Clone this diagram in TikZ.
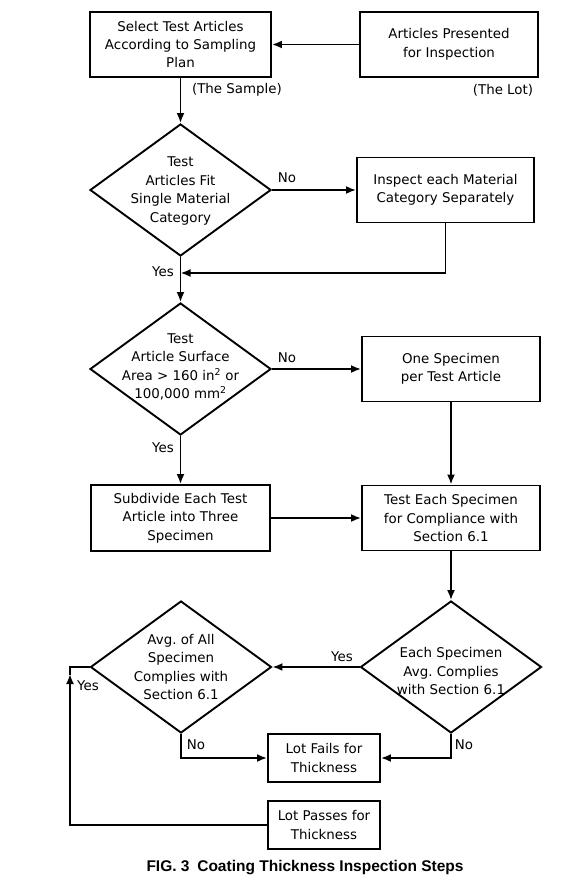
\documentclass[tikz,border=0pt]{standalone}
\usepackage{fontspec}
\setmainfont{DejaVu Sans}
\newfontfamily\capfont{Liberation Sans}
\usetikzlibrary{shapes.geometric,arrows.meta}
\frenchspacing
\begin{document}
\begin{tikzpicture}[x=1pt,y=-1pt,
  body/.style={font={\fontsize{13.4}{18.4}\selectfont}},
  box/.style={draw,line width=1.9pt,inner sep=0pt,minimum width=178pt,minimum height=65pt,align=center,body},
  smallbox/.style={box,minimum width=112pt,minimum height=48pt},
  dia/.style={draw,diamond,line width=1.9pt,inner sep=0pt,minimum width=181pt,minimum height=132pt},
  dtext/.style={align=center,inner sep=0pt,body},
  lbl/.style={inner sep=1pt,body},
  arr/.style={line width=1.9pt,-{Latex[length=10pt,width=8pt]}},
  ln/.style={line width=1.9pt}]
\useasboundingbox (0,0) rectangle (581,880);
% nodes
\node[box,minimum width=181pt] (b1) at (180.5,44.5) {Select Test Articles\\According to Sampling\\Plan};
\node[box] (b2) at (449,44.5) {Articles Presented\\for Inspection};
\node[dia] (d1) at (180.5,190) {};
\node[dtext] (t1) at ([yshift=-1pt]d1) {Test\\Articles Fit\\Single Material\\Category};
\node[box,minimum width=177pt] (b3) at (445.5,190) {Inspect each Material\\Category Separately};
\coordinate (m1) at (180.5,273);
\node[dia] (d2) at (180.5,369) {};
\node[dtext] (t2) at ([yshift=2pt]d2) {Test\\Article Surface\\Area > 160 in\textsuperscript{2} or\\100,000 mm\textsuperscript{2}};
\node[box] (b4) at (451,369) {One Specimen\\per Test Article};
\node[box,minimum width=179pt,minimum height=66pt] (b5) at (180.5,518) {Subdivide Each Test\\Article into Three\\Specimen};
\node[box] (b6) at (451,518) {Test Each Specimen\\for Compliance with\\Section 6.1};
\node[dia] (d3) at (181,667) {};
\node[dtext] (t3) at (d3) {Avg. of All\\Specimen\\Complies with\\Section 6.1};
\node[dia] (d4) at (451,667) {};
\node[dtext] (t4) at ([yshift=-4pt]d4) {Each Specimen\\Avg. Complies\\with Section 6.1};
\node[smallbox] (fail) at (324,758) {Lot Fails for\\Thickness};
\node[smallbox] (pass) at (324,825) {Lot Passes for\\Thickness};
\coordinate (c) at (70,667);
% labels
\node[lbl] (lsample) at (237,90) {(The Sample)};
\node[lbl] (llot) at (503,90) {(The Lot)};
\node[lbl] (lno1) at (287,178) {No};
\node[lbl] (lyes1) at (163,272) {Yes};
\node[lbl] (lno2) at (287,358) {No};
\node[lbl] (lyes2) at (163,448) {Yes};
\node[lbl] (lyes3) at (342,657) {Yes};
\node[lbl] (lno3) at (196,745) {No};
\node[lbl] (lno4) at (464,745) {No};
\node[lbl] (lyes4) at (88,686) {Yes};
\node[font={\capfont\bfseries\fontsize{15.5}{18}\selectfont}] (cap) at (305,868) {FIG. 3\enspace Coating Thickness Inspection Steps};
% connectors
\draw[arr] (b2.west) -- (b1.east);
\draw[arr] (b1.south) -- (d1.north);
\draw[arr] (d1.east) -- (b3.west);
\draw[arr] (b3.south) |- (m1);
\draw[arr] (d1.south) -- (d2.north);
\draw[arr] (d2.east) -- (b4.west);
\draw[arr] (d2.south) -- (b5.north);
\draw[arr] (b5.east) -- (b6.west);
\draw[arr] (b4.south) -- (b6.north);
\draw[arr] (b6.south) -- (d4.north);
\draw[arr] (d4.west) -- (d3.east);
\draw[arr] (d3.south) |- (fail.west);
\draw[arr] (d4.south) |- (fail.east);
\draw[arr] (pass.west) -| ([yshift=-7pt]c);
\draw[ln] ([yshift=-8pt]c) -- (c) -- (d3.west);
\end{tikzpicture}
\end{document}
